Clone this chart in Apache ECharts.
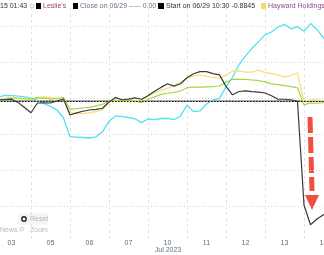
<!DOCTYPE html>
<html><head><meta charset="utf-8">
<script src="https://cdn.jsdelivr.net/npm/echarts@6/dist/echarts.min.js"></script>
<style>html,body{margin:0;padding:0;background:#fff}#c{width:324px;height:255px}</style>
</head><body><div id="c"></div>
<script>
const days = ['03','05','06','07','10','11','12','13','14'];
const monthLabel = 'Jul 2023';
const times = [0,0.167,0.333,0.5,0.667,0.833,1,1.167,1.333,1.5,1.667,1.833,2,2.167,2.333,2.5,2.667,2.833,3,3.167,3.333,3.5,3.667,3.833,4,4.167,4.333,4.5,4.667,4.833,5,5.167,5.333,5.5,5.667,5.833,6,6.167,6.333,6.5,6.667,6.833,7,7.167,7.333,7.5,7.667,7.833,8,8.167,8.333,8.5,8.667];
const leslies = [0.14,0.14,0.21,0.25,-0.19,-0.90,-1.63,-0.28,-0.24,-0.28,0,0.28,-1.94,-1.64,-1.42,-1.25,-1.17,-1.01,-0.14,0.47,0.17,0.25,0.44,0.24,0.72,1.35,1.89,2.40,2.07,2.39,3.22,3.79,4.07,4.07,3.81,3.63,2.03,0.86,1.32,1.40,1.29,1.22,1.11,0.72,0.24,0.24,0.17,-0.06,-14.44,-17.18,-16.39,-15.79,-15.42];
const cyanSeries = [0.49,0.56,0.78,0.76,0.67,0.56,0.39,0.08,-0.38,-0.74,-1.25,-2.36,-4.96,-5.01,-5.07,-5.14,-4.97,-4.26,-2.82,-2.08,-2.17,-2.29,-2.47,-3.0,-2.5,-2.6,-2.43,-2.4,-2.6,-2.1,-0.56,-1.47,-1.38,-0.42,0.17,0.36,1.96,3.29,5.06,6.24,7.32,8.21,9.18,9.58,10.28,10.64,10.03,10.33,9.68,10.75,9.94,8.75,7.92];
const hayward = [0.21,0.25,0.40,0.49,0.40,0.31,0.28,0.51,0.57,0.50,0.28,0.35,-1.63,-1.74,-1.75,-1.64,-1.46,-1.22,-0.17,0,-0.10,-0.10,-0.06,0.11,0.69,1.13,1.49,1.78,2.13,2.58,3.19,3.49,3.58,3.43,3.29,3.17,3.63,4.13,4.17,4.01,4.01,4.29,3.93,3.82,3.61,3.31,3.57,3.89,-0.08,0.14,0.14,0.04,0.04];
const greenSeries = [0,0.01,0.21,0.38,0.38,0.31,0.26,0.44,0.40,0.25,0.38,0.49,-1.15,-1.07,-0.97,-0.89,-0.68,-0.47,0,0.08,0.06,0.11,0.06,-0.22,0.24,0.57,0.92,1.08,1.21,1.39,1.85,1.94,1.92,1.97,2.01,2.08,2.60,3.01,3.01,2.99,2.92,2.83,2.65,2.38,2.28,2.14,1.99,1.83,-0.54,-0.26,-0.31,-0.24,-0.24];
const closeValue = [0.00];
const legendTexts = ['15 01:43', "Leslie's", 'Close on 06/29 ----- 0.00', 'Start on 06/29 10:30 -0.8845', 'Hayward Holdings'];

const pairs = v => times.map((t, i) => [t, v[i]]);
const FF = '"Liberation Sans", Arial, sans-serif';
const F = '7px ' + FF;
const chart = echarts.init(document.getElementById('c'));
const line = (name, vals, color, w, z) => ({
  name, type: 'line', xAxisIndex: 1, yAxisIndex: 0, data: pairs(vals), symbol: 'none',
  lineStyle: { color, width: w }, itemStyle: { color }, z, animation: false
});
const txt = (x, y, text, fill, font, align) => ({ type: 'text', x, y, silent: true,
  style: { text, fill, font: font || F, verticalAlign: 'middle', align: align || 'left' } });

const blackSeries = line("Leslie's", leslies, '#3a3a3a', 1.2, 5);
blackSeries.markLine = { silent: true, symbol: 'none', label: { show: false }, animation: false,
  lineStyle: { color: '#111', type: [1.5, 1.5], width: 1 }, data: [{ yAxis: closeValue[0] }] };

chart.setOption({
  animation: false,
  grid: { left: -8, right: -19, top: 8, bottom: 13, containLabel: false, outerBoundsMode: 'none' },
  xAxis: [
    { type: 'category', data: days, boundaryGap: true, offset: -6,
      axisLine: { lineStyle: { color: '#a8a8a8', width: 2 } },
      axisTick: { show: false },
      axisLabel: { color: '#55708a', fontSize: 7, fontFamily: FF, margin: 4, interval: 0, hideOverlap: false },
      splitLine: { show: true, lineStyle: { color: '#e2e2e2', type: [3, 3], width: 1 } }
    },
    { type: 'value', min: 0, max: 9, show: false }
  ],
  yAxis: [
    { type: 'value', min: -19.5833, max: 12.9167, show: false, splitLine: { show: false } },
    { type: 'value', min: -20, max: 12.5, interval: 5, axisLine: { show: false }, axisTick: { show: false },
      axisLabel: { show: false },
      splitLine: { show: true, showMinLine: false, showMaxLine: false, lineStyle: { color: '#d6d6d6', type: [1, 2], width: 1 } } }
  ],
  series: [
    line('Cyan', cyanSeries, '#4fe3f0', 1.3, 2),
    line('Hayward Holdings', hayward, '#f6df80', 1.3, 3),
    line('Green', greenSeries, '#a6d645', 1.2, 4),
    blackSeries
  ],
  graphic: [
    txt(0, 6, legendTexts[0], '#333'),
    { type: 'circle', shape: { cx: 32, cy: 6, r: 2 }, style: { fill: 'none', stroke: '#c8c8c8', lineWidth: 1 } },
    { type: 'rect', shape: { x: 36, y: 3, width: 5, height: 6 }, style: { fill: '#000' } },
    txt(43, 6, legendTexts[1], '#a3406a'),
    { type: 'rect', shape: { x: 73, y: 3, width: 5, height: 6 }, style: { fill: '#000' } },
    txt(80, 6, legendTexts[2], '#7c6a8c'),
    { type: 'rect', shape: { x: 158, y: 3, width: 6, height: 6 }, style: { fill: '#000' } },
    txt(166, 6, legendTexts[3], '#333'),
    { type: 'rect', shape: { x: 261, y: 3, width: 5, height: 6 }, style: { fill: '#f7d965' } },
    txt(268, 6, legendTexts[4], '#8c4a8c'),
    txt(168, 250, monthLabel, '#55708a', F, 'center'),
    { type: 'rect', shape: { x: 18, y: 213, width: 30, height: 12 }, style: { fill: '#f6f6f6' } },
    { type: 'circle', shape: { cx: 24, cy: 219, r: 2.2 }, style: { fill: 'none', stroke: '#222', lineWidth: 1.4 } },
    txt(30, 219, 'Reset', '#b4b4b4'),
    txt(0, 230, 'News', '#b8b8b8'),
    { type: 'circle', shape: { cx: 22, cy: 229, r: 1.8 }, style: { fill: 'none', stroke: '#c4c4c4', lineWidth: 0.8 } },
    { type: 'line', shape: { x1: 20.8, y1: 230.3, x2: 19.5, y2: 231.6 }, style: { stroke: '#c4c4c4', lineWidth: 0.8 } },
    txt(30, 230, 'Zoom', '#b8b8b8'),
    { type: 'line', shape: { x1: 310, y1: 117, x2: 312, y2: 191 }, style: { stroke: '#f04e3e', lineWidth: 5, lineDash: [16, 4] } },
    { type: 'polygon', shape: { points: [[305, 195], [319, 195], [312, 210]] }, style: { fill: '#f04e3e' } }
  ]
});
</script></body></html>
